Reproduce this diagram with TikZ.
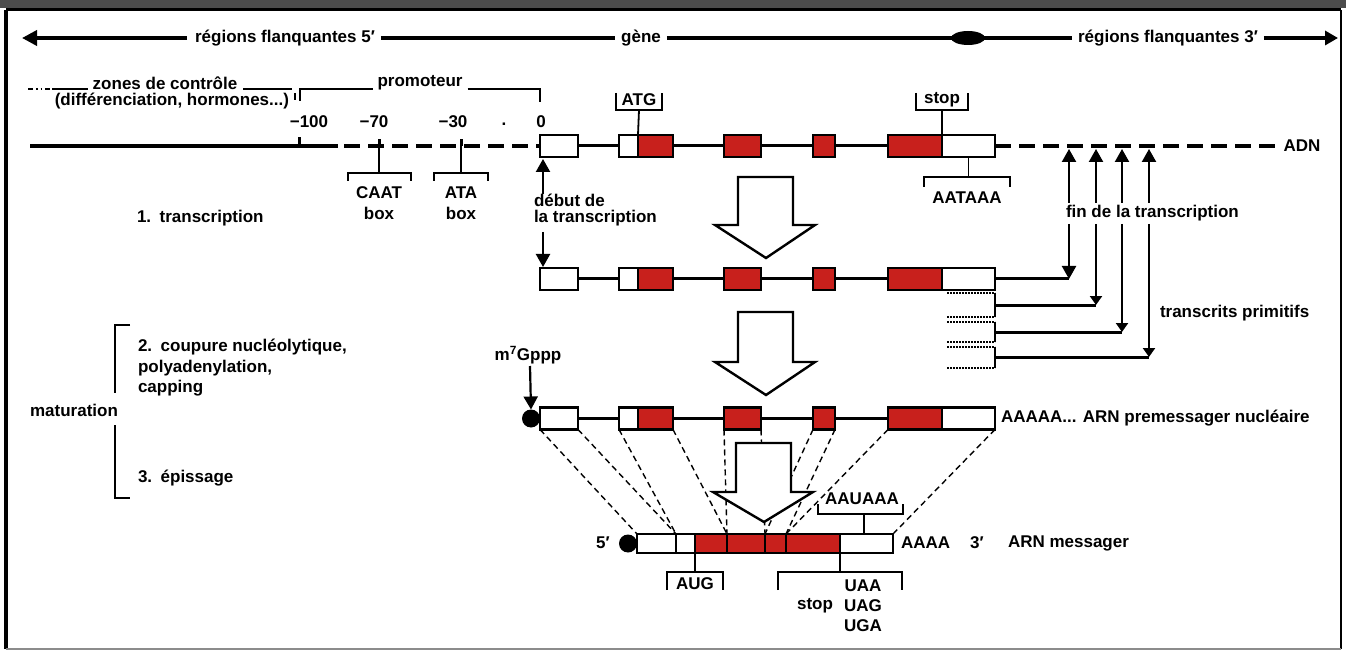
\documentclass[tikz,border=0pt]{standalone}
\usepackage{fontspec}
\setmainfont{Liberation Sans}
\usetikzlibrary{arrows.meta}
\definecolor{exred}{RGB}{200,32,28}
\newcommand\generow[2]{%
  \node[wb, minimum width=38pt] (#1a) at (559,#2) {};
  \node[wb, minimum width=19pt] (#1b) at (628.5,#2) {};
  \node[rb, minimum width=35pt] (#1c) at (655.5,#2) {};
  \node[rb, minimum width=37pt] (#1d) at (742.5,#2) {};
  \node[rb, minimum width=22pt] (#1e) at (824,#2) {};
  \node[rb, minimum width=54pt] (#1f) at (915,#2) {};
  \node[wb, minimum width=53pt] (#1g) at (968.5,#2) {};
  \draw[intron] (#1a.east) -- (#1b.west);
  \draw[intron] (#1c.east) -- (#1d.west);
  \draw[intron] (#1d.east) -- (#1e.west);
  \draw[intron] (#1e.east) -- (#1f.west);
}
\newcommand\blockarrow[4]{%
  \draw[bigarr] (#1-28,#2) -- (#1+27,#2) -- (#1+27,#3) -- (#1+49,#3) -- (#1,#4) -- (#1-51,#3) -- (#1-28,#3) -- cycle;
}
\begin{document}
\begin{tikzpicture}[x=1pt,y=-1pt,
  every node/.style={inner sep=0pt, outer sep=0pt},
  lbl/.style={font=\bfseries\fontsize{17}{20}\selectfont},
  gbox/.style={draw, line width=2.2pt, minimum height=22pt},
  wb/.style={gbox, fill=white},
  rb/.style={gbox, fill=exred},
  mbox/.style={draw, line width=2.2pt, minimum height=19pt},
  mw/.style={mbox, fill=white},
  mr/.style={mbox, fill=exred},
  intron/.style={line width=3pt},
  hdr/.style={line width=3.6pt},
  dnaline/.style={line width=3.2pt},
  dnadash/.style={line width=3.2pt, dash pattern=on 16pt off 8pt},
  brk/.style={line width=1.8pt},
  proj/.style={line width=1.4pt, dash pattern=on 6pt off 4pt},
  bigarr/.style={draw, line width=2.4pt, fill=white, line join=miter},
  arr/.style={line width=2.2pt, -{Triangle[length=13pt,width=14pt]}},
  sarr/.style={line width=2.2pt, -{Triangle[length=9pt,width=12pt]}},
  dotl/.style={line width=2pt, dash pattern=on 1.6pt off 1.4pt},
  capdot/.style={circle, fill=black, minimum size=18pt}]
\useasboundingbox (0,0) rectangle (1346,652);
% frame
\fill[black!70] (0,0) rectangle (1346,8);
\draw[line width=3pt] (6,10) -- (1341,10);
\draw[line width=4pt] (6,10) -- (6,649);
\draw[line width=2.5pt] (1341,10) -- (1341,649);
\draw[line width=2pt, black!45] (6,649) -- (1341,649);

% header
\node[lbl] (h5) at (285,38) {régions flanquantes 5′};
\node[lbl] (hg) at (641,38) {gène};
\node[lbl] (h3) at (1168,38) {régions flanquantes 3′};
\coordinate (hl) at (22,38);
\coordinate (hr) at (1338,38);
\draw[hdr, -{Triangle[length=15pt,width=15pt]}] ([xshift=-8pt]h5.west) -- (hl);
\draw[hdr] ([xshift=6pt]h5.east) -- ([xshift=-6pt]hg.west);
\draw[hdr] ([xshift=6pt]hg.east) -- ([xshift=-6pt]h3.west);
\fill (968,38) ellipse (17pt and 7pt);
\draw[hdr, -{Triangle[length=13pt,width=14pt]}] ([xshift=6pt]h3.east) -- (hr);

% control zones and promoter
\node[lbl] (zc) at (165,83) {zones de contrôle};
\node[lbl, anchor=east] (dh) at (289,101) {(différenciation, hormones...)};
\draw[brk, dash pattern=on 5pt off 3pt on 1.5pt off 3pt on 1.5pt off 3pt] (28,89) -- (52,89);
\draw[brk] (52,89) -- ([xshift=-5pt]zc.west |- 0,89);
\draw[brk] ([xshift=6pt]zc.east |- 0,89) -- (292,89);
\node[lbl] (pr) at (420,83) {promoteur};
\draw[brk] (300,101) -- (300,89) -- ([xshift=-5pt]pr.west |- 0,89);
\draw[brk] (295,93) -- (295,100);
\draw[brk] ([xshift=5pt]pr.east |- 0,89) -- (540,89) -- (540,102);

% position labels
\node[lbl] (p100) at (309,122) {−100};
\node[lbl] (p70) at (374,122) {−70};
\node[lbl] (p30) at (453,122) {−30};
\node[lbl] (pdot) at (504,124) {.};
\node[lbl] (p0) at (541,122) {0};

% DNA row
\generow{g1}{146}
\coordinate (dl) at (30,146);
\coordinate (ds) at (338,146);
\coordinate (ds2) at (344,146);
\draw[dnaline] (dl) -- (ds);
\draw[dnadash] (ds2) -- (g1a.west);
\node[lbl] (adn) at (1302,146) {ADN};
\draw[dnadash] (g1g.east) -- ([xshift=-9pt]adn.west);
\draw[line width=3pt] (299,146) -- (299,137);
\draw[line width=3pt] (379,146) -- (379,139);
\draw[line width=3pt] (461,146) -- (461,139);

% CAAT / ATA boxes
\draw[brk] (379,146) -- (379,173);
\draw[brk] (348,181) -- (348,173) -- (411,173) -- (411,181);
\node[lbl] (caat) at (379,193) {CAAT};
\node[lbl] (box1) at (379,213) {box};
\draw[brk] (461,146) -- (461,173);
\draw[brk] (434,181) -- (434,173) -- (488,173) -- (488,181);
\node[lbl] (ata) at (461,193) {ATA};
\node[lbl] (box2) at (461,213) {box};

% ATG / stop / AATAAA
\node[lbl] (atg) at (639,100) {ATG};
\draw[brk] (616,93) -- (616,110) -- (662,110) -- (662,93);
\draw[brk] (639,110) -- (g1b.north east);
\node[lbl] (stp) at (942,100) {stop};
\draw[brk] (916,93) -- (916,110) -- (968,110) -- (968,93);
\draw[brk] (942,110) -- (g1f.north east);
\draw[brk] (g1g.south) -- (968.5,177);
\draw[brk] (924,187) -- (924,177) -- (1010,177) -- (1010,187);
\node[lbl] (aataaa) at (967,198) {AATAAA};

\node[lbl, anchor=west] (tr1) at (137,218) {1.\enspace transcription};

% start of transcription
\node[lbl, anchor=west, align=left, font=\bfseries\fontsize{17}{16}\selectfont] (deb) at (534,210) {début de\\la transcription};
\draw[arr] (543,194) -- (543,159);
\draw[arr] (543,232) -- (543,267);

% arrow 1
\blockarrow{766}{177}{225}{258}

% primary transcript row
\generow{g2}{279}
\coordinate (t1) at (1069,279);
\draw[intron] (g2g.east) -- (t1);

% end of transcription
\node[lbl, anchor=west] (fin) at (1066,213) {fin de la transcription};
\foreach \x in {1069,1096,1122,1149} {\draw[arr] (\x,203) -- (\x,149);}
\draw[arr] (1069,224) -- (t1);
\foreach \t/\b/\m/\x in {293/317/305/1096, 322/342/332/1122, 347/368/357/1149} {
  \draw[dotl] (947,\t) -- (995,\t);
  \draw[dotl] (947,\b) -- (995,\b);
  \draw[line width=2pt] (995,\t) -- (995,\b);
  \draw[intron] (995,\m) -- (\x,\m);
  \draw[sarr] (\x,224) -- (\x,\m);
}
\node[lbl, anchor=west] (tp) at (1160,313) {transcrits primitifs};

% maturation
\draw[line width=2pt] (130,325) -- (115,325) -- (115,393);
\draw[line width=2pt] (115,425) -- (115,498) -- (130,498);
\node[lbl] (mat) at (74,410) {maturation};
\node[lbl, anchor=west] (s2a) at (138,347) {2.\enspace coupure nucléolytique,};
\node[lbl, anchor=west] (s2b) at (138,368) {polyadenylation,};
\node[lbl, anchor=west] (s2c) at (138,388) {capping};
\node[lbl, anchor=west] (s3) at (138,478) {3.\enspace épissage};

% arrow 2
\blockarrow{766}{312}{362}{395}

% pre-mRNA row
\generow{g3}{418.5}
\node[capdot] (cap1) at (531,418.5) {};
\node[lbl] (m7g) at (528,355) {m\textsuperscript{7}Gppp};
\draw[arr] (530,366) -- (cap1.north);
\node[lbl, anchor=west] (pre) at (1001,418) {AAAAA... ARN premessager nucléaire};

% mRNA row
\node[mw, minimum width=39pt] (m1) at (656.5,543.5) {};
\node[mw, minimum width=19pt] (m2) at (685.5,543.5) {};
\node[mr, minimum width=32pt] (m3) at (711,543.5) {};
\node[mr, minimum width=38pt] (m4) at (746,543.5) {};
\node[mr, minimum width=21pt] (m5) at (775.5,543.5) {};
\node[mr, minimum width=54pt] (m6) at (813,543.5) {};
\node[mw, minimum width=53pt] (m7) at (866.5,543.5) {};
\node[capdot] (cap2) at (628,543.5) {};
\node[lbl] (f5) at (603,543) {5′};
\node[lbl, anchor=west] (a4) at (901,543) {AAAA};
\node[lbl] (f3) at (977,543) {3′};
\node[lbl, anchor=west] (arnm) at (1008,543) {ARN messager};

% projections
\draw[proj] (g3a.south west) -- (m1.north west);
\draw[proj] (g3a.south east) -- (m2.north west);
\draw[proj] (g3b.south west) -- (m2.north west);
\draw[proj] (g3c.south east) -- (m3.north east);
\draw[proj] (g3d.south west) -- (m3.north east);
\draw[proj] (g3d.south east) -- (m4.north east);
\draw[proj] (g3e.south west) -- (m4.north east);
\draw[proj] (g3e.south east) -- (m5.north east);
\draw[proj] (g3f.south west) -- (m5.north east);
\draw[proj] (g3g.south east) -- (m7.north east);

% arrow 3
\blockarrow{764}{443}{492}{522}

% AAUAAA
\node[lbl] (aauaaa) at (862,499) {AAUAAA};
\draw[brk] (818,504) -- (818,514) -- (903,514) -- (903,504);
\draw[brk] (864,514) -- (m7.north -| 864,0);

% AUG
\draw[brk] (m2.south east) -- (695,572);
\draw[brk] (667,590) -- (667,572) -- (723,572) -- (723,590);
\node[lbl] (aug) at (695,584) {AUG};
% stop codons
\draw[brk] (m6.south east) -- (840,572);
\draw[brk] (778,590) -- (778,572) -- (902,572) -- (902,590);
\node[lbl] (uaa) at (863,586) {UAA};
\node[lbl] (uag) at (863,606) {UAG};
\node[lbl] (uga) at (863,626) {UGA};
\node[lbl] (stp2) at (815,606) {stop};
\end{tikzpicture}
\end{document}
